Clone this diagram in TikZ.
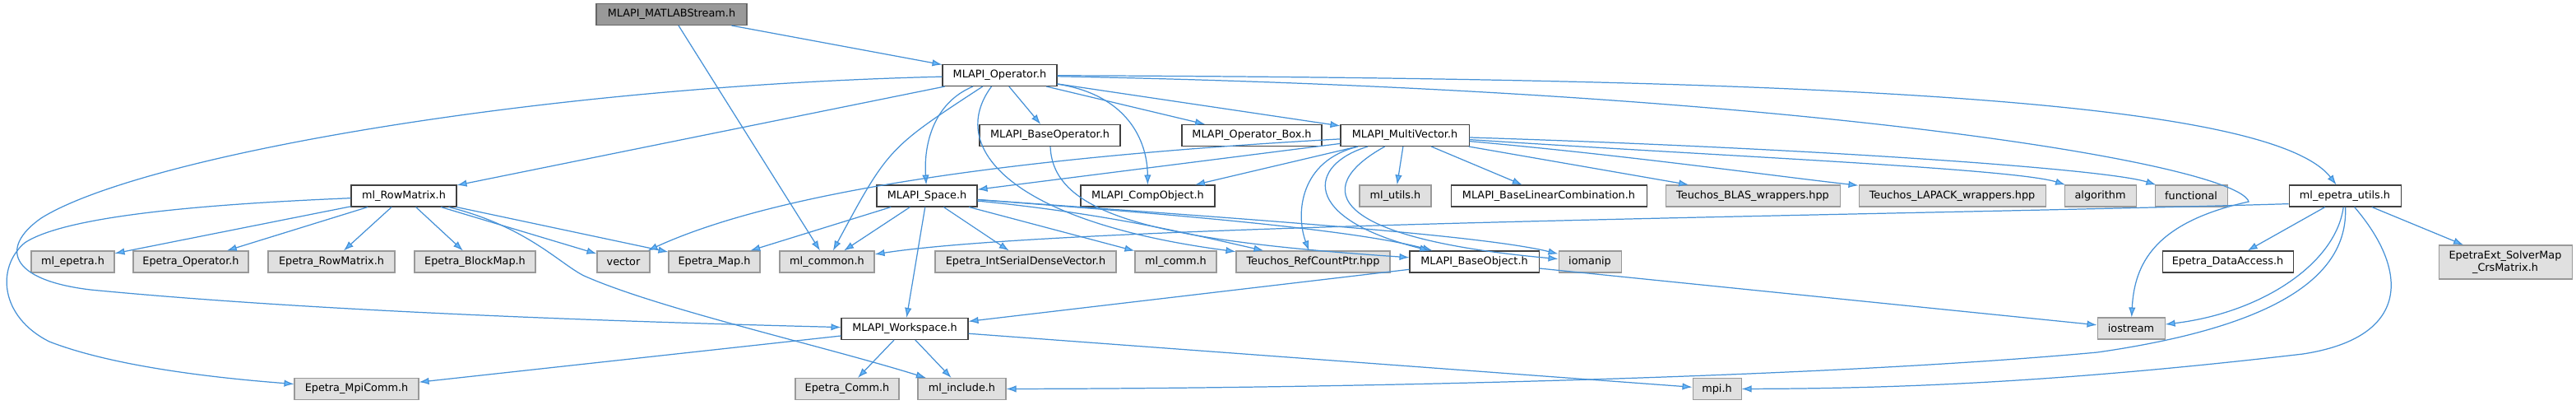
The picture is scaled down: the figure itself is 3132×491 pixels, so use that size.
\documentclass[tikz,border=0pt]{standalone}
\usepackage{fontspec}
\setmainfont{DejaVu Sans}
\usetikzlibrary{arrows.meta}

\definecolor{edgeblue}{RGB}{70,145,215}
\definecolor{arrowblue}{HTML}{63B8FF}
\definecolor{extfill}{HTML}{E0E0E0}
\definecolor{extborder}{HTML}{999999}
\definecolor{rootfill}{HTML}{999999}
\definecolor{rootborder}{HTML}{666666}
\definecolor{docborder}{HTML}{404040}

\tikzset{
  boxw/.style={minimum width=#1*0.02cm},
  docnode/.style={draw=docborder, fill=white, line width=0.6pt, minimum height=0.52cm,
    inner sep=0pt, font=\fontsize{7.3}{8.6}\selectfont},
  extnode/.style={docnode, draw=extborder, fill=extfill},
  rootnode/.style={docnode, draw=rootborder, fill=rootfill},
  incl/.style={draw=edgeblue, line width=0.7pt,
    -{Latex[length=2.4mm, width=1.7mm, fill=arrowblue]}}
}

\begin{document}
\begin{tikzpicture}[x=0.02cm, y=-0.02cm]
    \path[use as bounding box, fill=white] (0,0) rectangle (3132,491);

    % the file itself and its first include
    \node[rootnode, boxw=183] (matlab) at (816.5,17.5) {MLAPI\_MATLABStream.h};
    \node[docnode, boxw=139] (op) at (1215.5,91.5) {MLAPI\_Operator.h};

    % second level
    \node[docnode, boxw=171] (baseop) at (1276.5,164.5) {MLAPI\_BaseOperator.h};
    \node[docnode, boxw=170] (opbox) at (1522,164.5) {MLAPI\_Operator\_Box.h};
    \node[docnode, boxw=156] (multivec) at (1708,164.5) {MLAPI\_MultiVector.h};

    % third level
    \node[docnode, boxw=128] (rowmat) at (491,238) {ml\_RowMatrix.h};
    \node[docnode, boxw=122] (space) at (1127,238) {MLAPI\_Space.h};
    \node[docnode, boxw=163] (compobj) at (1395.5,238) {MLAPI\_CompObject.h};
    \node[extnode, boxw=87] (utils) at (1696.5,238) {ml\_utils.h};
    \node[docnode, boxw=238] (blc) at (1883,238) {MLAPI\_BaseLinearCombination.h};
    \node[extnode, boxw=212] (blas) at (2131,238) {Teuchos\_BLAS\_wrappers.hpp};
    \node[extnode, boxw=227] (lapack) at (2373.5,238) {Teuchos\_LAPACK\_wrappers.hpp};
    \node[extnode, boxw=87] (algo) at (2553.5,238) {algorithm};
    \node[extnode, boxw=88] (func) at (2664,238) {functional};
    \node[docnode, boxw=136] (eputils) at (2851,238) {ml\_epetra\_utils.h};

    % fourth level
    \node[extnode, boxw=101] (epetra) at (88.5,318) {ml\_epetra.h};
    \node[extnode, boxw=140] (epop) at (232,318) {Epetra\_Operator.h};
    \node[extnode, boxw=154] (eprow) at (403,318) {Epetra\_RowMatrix.h};
    \node[extnode, boxw=147] (epblock) at (577.5,318) {Epetra\_BlockMap.h};
    \node[extnode, boxw=64] (vec) at (758,318) {vector};
    \node[extnode, boxw=111] (epmap) at (868.5,318) {Epetra\_Map.h};
    \node[extnode, boxw=115] (common) at (1005.5,318) {ml\_common.h};
    \node[extnode, boxw=220] (isdv) at (1247,318) {Epetra\_IntSerialDenseVector.h};
    \node[extnode, boxw=99] (comm) at (1429.5,318) {ml\_comm.h};
    \node[extnode, boxw=187] (rcp) at (1596.5,318) {Teuchos\_RefCountPtr.hpp};
    \node[docnode, boxw=157] (baseobj) at (1792.5,318) {MLAPI\_BaseObject.h};
    \node[extnode, boxw=76] (iomanip) at (1933,318) {iomanip};
    \node[docnode, boxw=159] (dataacc) at (2708.5,318) {Epetra\_DataAccess.h};
    \node[extnode, boxw=162, minimum height=0.82cm, align=center] (solvermap) at (3046,318.5) {EpetraExt\_SolverMap\\\_CrsMatrix.h};

    % fifth and sixth level
    \node[docnode, boxw=154] (workspace) at (1100,399.5) {MLAPI\_Workspace.h};
    \node[extnode, boxw=82] (iostream) at (2591,399) {iostream};
    \node[extnode, boxw=151] (mpicomm) at (433.5,472.5) {Epetra\_MpiComm.h};
    \node[extnode, boxw=126] (epcomm) at (1030,472.5) {Epetra\_Comm.h};
    \node[extnode, boxw=107] (mlinclude) at (1169.5,472.5) {ml\_include.h};
    \node[extnode, boxw=59] (mpi) at (2087.5,472.5) {mpi.h};

    % straight includes
    \foreach \t in {op,common} \draw[incl] (matlab) -- (\t);
    \foreach \t in {rowmat,baseop,opbox,multivec} \draw[incl] (op) -- (\t);
    \foreach \t in {epetra,epop,eprow,epblock,vec,epmap} \draw[incl] (rowmat) -- (\t);
    \foreach \t in {epmap,common,workspace,isdv,comm} \draw[incl] (space) -- (\t);
    \foreach \t in {space,compobj,utils,blc,blas} \draw[incl] (multivec) -- (\t);
    \foreach \t in {dataacc,solvermap} \draw[incl] (eputils) -- (\t);
    \foreach \t in {epcomm,mlinclude,mpicomm,mpi} \draw[incl] (workspace) -- (\t);
    \foreach \t in {workspace,iostream} \draw[incl] (baseobj) -- (\t);

    % curved includes of MLAPI_Operator.h
    \draw[incl] (op) .. controls (1135,125) and (1123,175) .. (space);
    \draw[incl] (op) .. controls (1370,115) and (1395,170) .. (compobj);
    \draw[incl] (op) .. controls (1080,180) .. (common);
    \draw[incl] (op) .. controls (1150,180) and (1230,270) .. (rcp);
    \draw[incl] (op) .. controls (2200,95) and (2760,120) .. (eputils);
    \draw[incl] (op) .. controls (2200,110) and (2720,200) .. (2734,245)
        .. controls (2620,270) and (2595,320) .. (iostream);
    \draw[incl] (op) .. controls (650,105) and (170,190) .. (50,265)
        .. controls (0,300) and (10,340) .. (110,352)
        .. controls (400,380) and (800,392) .. (workspace);

    % curved includes of ml_RowMatrix.h
    \draw[incl] (rowmat) .. controls (640,275) and (680,320) .. (710,335)
        .. controls (800,375) and (1000,420) .. (mlinclude);
    \draw[incl] (rowmat) .. controls (250,248) and (80,262) .. (30,295)
        .. controls (-5,325) and (0,385) .. (60,415)
        .. controls (150,450) and (300,462) .. (mpicomm);

    % curved includes of MLAPI_Space.h
    \draw[incl] (space) .. controls (1350,260) and (1450,285) .. (rcp);
    \draw[incl] (space) .. controls (1450,262) and (1650,280) .. (baseobj);
    \draw[incl] (space) .. controls (1500,265) and (1800,285) .. (iomanip);

    % curved includes of MLAPI_MultiVector.h and MLAPI_BaseOperator.h
    \draw[incl] (multivec) .. controls (1250,190) and (950,230) .. (vec);
    \draw[incl] (multivec) .. controls (1990,190) and (2150,213) .. (lapack);
    \draw[incl] (multivec) .. controls (2100,190) and (2450,205) .. (algo);
    \draw[incl] (multivec) .. controls (2200,180) and (2560,205) .. (func);
    \draw[incl] (multivec) .. controls (1580,195) and (1575,260) .. (rcp);
    \draw[incl] (multivec) .. controls (1590,200) and (1580,265) .. (baseobj);
    \draw[incl] (multivec) .. controls (1590,230) and (1620,290) .. (iomanip);
    \draw[incl] (baseop) .. controls (1280,260) and (1400,292) .. (baseobj);

    % includes of ml_epetra_utils.h
    \draw[incl] (eputils.-172) .. controls (2300,262) and (1300,272) .. (common);
    \draw[incl] (eputils) .. controls (2840,320) and (2750,380) .. (iostream);
    \draw[incl] (eputils) .. controls (2855,330) and (2780,395) .. (2550,428)
        .. controls (2200,460) and (1600,472) .. (mlinclude);
    \draw[incl] (eputils) .. controls (2930,330) and (2930,410) .. (2800,430)
        .. controls (2500,465) and (2300,472) .. (mpi);
\end{tikzpicture}
\end{document}
